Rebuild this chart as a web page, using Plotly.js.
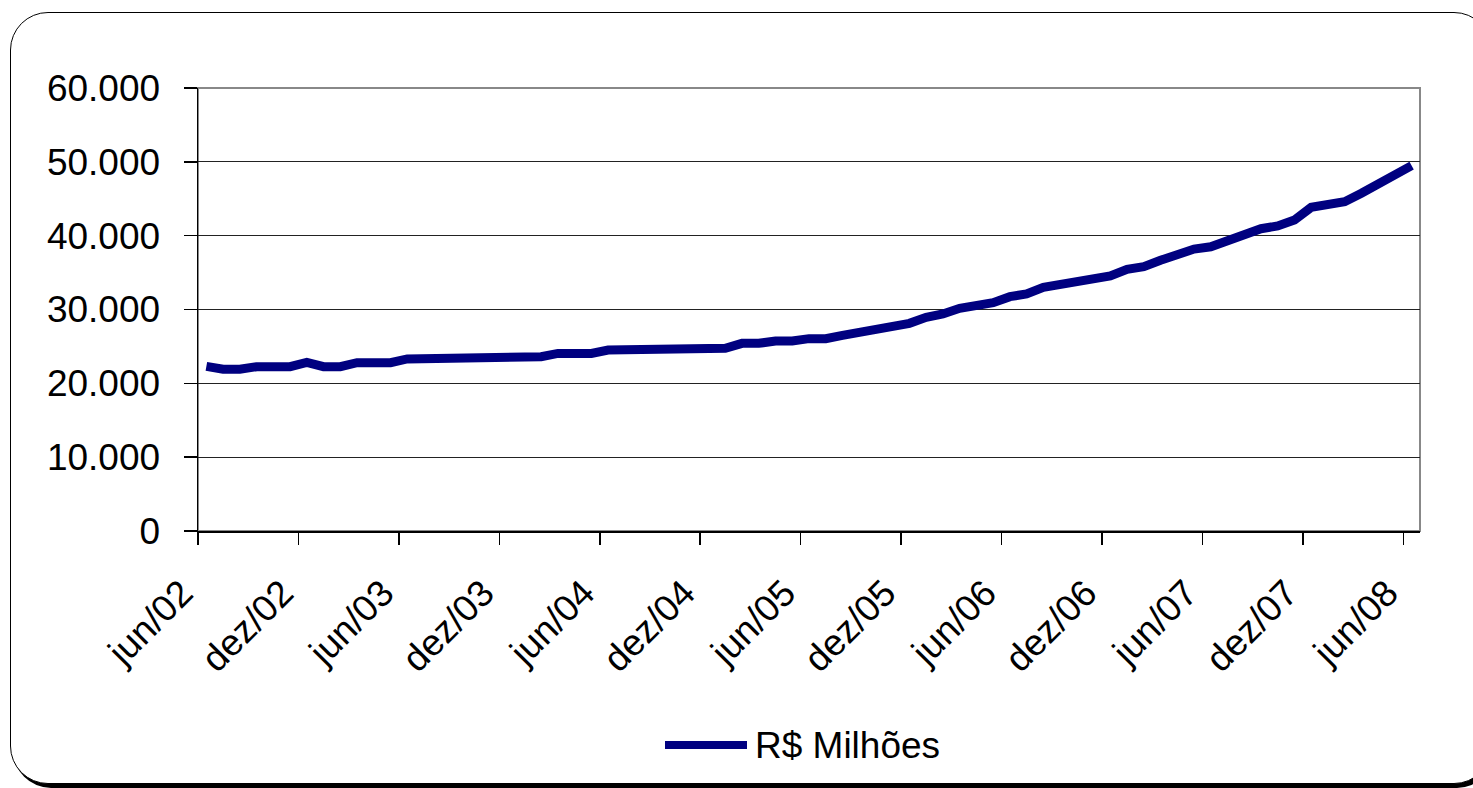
<!DOCTYPE html>
<html>
<head>
<meta charset="utf-8">
<script src="https://cdn.plot.ly/plotly-3.0.1.min.js"></script>
<style>
  html, body { margin: 0; padding: 0; width: 1473px; height: 788px; overflow: hidden; background: #fff; }
  #frame { position: absolute; left: 10px; top: 12px; width: 1480px; height: 770px;
           border: 1.5px solid #000; border-radius: 38px; box-shadow: 3px 4px 0 #000; background: #fff; }
  #chart { position: absolute; left: 0; top: 0; width: 1473px; height: 788px; }
</style>
</head>
<body>
<div id="frame"></div>
<div id="chart"></div>
<script>
// Monthly categories, jun/02 .. jun/08
const months = [
  "jun/02","jul/02","ago/02","set/02","out/02","nov/02","dez/02",
  "jan/03","fev/03","mar/03","abr/03","mai/03","jun/03","jul/03","ago/03","set/03","out/03","nov/03","dez/03",
  "jan/04","fev/04","mar/04","abr/04","mai/04","jun/04","jul/04","ago/04","set/04","out/04","nov/04","dez/04",
  "jan/05","fev/05","mar/05","abr/05","mai/05","jun/05","jul/05","ago/05","set/05","out/05","nov/05","dez/05",
  "jan/06","fev/06","mar/06","abr/06","mai/06","jun/06","jul/06","ago/06","set/06","out/06","nov/06","dez/06",
  "jan/07","fev/07","mar/07","abr/07","mai/07","jun/07","jul/07","ago/07","set/07","out/07","nov/07","dez/07",
  "jan/08","fev/08","mar/08","abr/08","mai/08","jun/08"
];

// R$ Milhões
const valores = [
  22300, 21900, 21900, 22250, 22250, 22250, 22850,
  22250, 22250, 22800, 22800, 22800, 23300, 23300, 23600, 23600, 23600, 23600, 23600,
  23600, 23600, 24050, 24050, 24050, 24500, 24500, 24500, 24500, 24500, 24740, 24740,
  24740, 25420, 25420, 25730, 25730, 26050, 26050, 26500, 26860, 27310, 27670, 28130,
  28940, 29390, 30160, 30570, 30920, 31740, 32100, 33000, 33450, 33770, 34180, 34540,
  35440, 35800, 36660, 37380, 38190, 38500, 39320, 40090, 40940, 41310, 42120, 43840,
  44110, 44600, 45740, 47000, 48080, 49480
];

const tickLabels = ["jun/02","dez/02","jun/03","dez/03","jun/04","dez/04","jun/05",
                    "dez/05","jun/06","dez/06","jun/07","dez/07","jun/08"];

const seriesName = "R$ Milhões";
const yTicks = [0, 10000, 20000, 30000, 40000, 50000, 60000];

const FONT = "'Liberation Sans', Arial, Helvetica, sans-serif";
const NAVY = "#000080";

// tick marks sit on category boundaries (half a category before each labelled month)
const tickPos = tickLabels.map(l => months.indexOf(l) - 0.5);

const trace = {
  type: "scatter",
  mode: "lines",
  x: months,
  y: valores,
  name: seriesName,
  line: { color: NAVY, width: 9 },
  showlegend: false
};

const layout = {
  width: 1473,
  height: 788,
  margin: { l: 198, r: 53, t: 88, b: 257 },
  paper_bgcolor: "rgba(0,0,0,0)",
  plot_bgcolor: "rgba(0,0,0,0)",
  separators: ",.",
  font: { family: FONT, size: 37, color: "#000" },
  xaxis: {
    type: "category",
    range: [-0.5, months.length - 0.5],
    tickmode: "array",
    tickvals: tickPos,
    ticktext: tickLabels,
    tickangle: -45,
    ticks: "outside",
    ticklen: 12,
    tickwidth: 1.5,
    tickcolor: "#000",
    ticklabelstandoff: 12,
    ticklabelshift: -16,
    showgrid: false,
    showline: true,
    linecolor: "#000",
    linewidth: 1.5,
    zeroline: false,
    tickfont: { family: FONT, size: 37, color: "#000" }
  },
  yaxis: {
    range: [0, 60000],
    tickmode: "array",
    tickvals: yTicks,
    tickformat: ",d",
    ticks: "outside",
    ticklen: 13,
    tickwidth: 1.5,
    tickcolor: "#000",
    ticklabelstandoff: 16,
    showgrid: true,
    gridcolor: "#222",
    gridwidth: 1,
    showline: true,
    linecolor: "#000",
    linewidth: 1.5,
    zeroline: false,
    tickfont: { family: FONT, size: 37, color: "#000" }
  },
  shapes: [
    { type: "rect", xref: "paper", yref: "paper", x0: 0, x1: 1, y0: 0, y1: 1,
      line: { color: "#888", width: 2 }, layer: "below" },
    // legend sample line
    { type: "line", xref: "paper", yref: "paper",
      x0: (665 - 198) / 1222, x1: (747 - 198) / 1222,
      y0: (531 - 745) / 443, y1: (531 - 745) / 443,
      line: { color: NAVY, width: 8 } }
  ],
  annotations: [
    { xref: "paper", yref: "paper", x: (753 - 198) / 1222, y: (531 - 745) / 443,
      xanchor: "left", yanchor: "middle", showarrow: false, text: seriesName,
      font: { family: FONT, size: 37, color: "#000" } }
  ]
};

Plotly.newPlot("chart", [trace], layout, { displayModeBar: false, staticPlot: true });
</script>
</body>
</html>
